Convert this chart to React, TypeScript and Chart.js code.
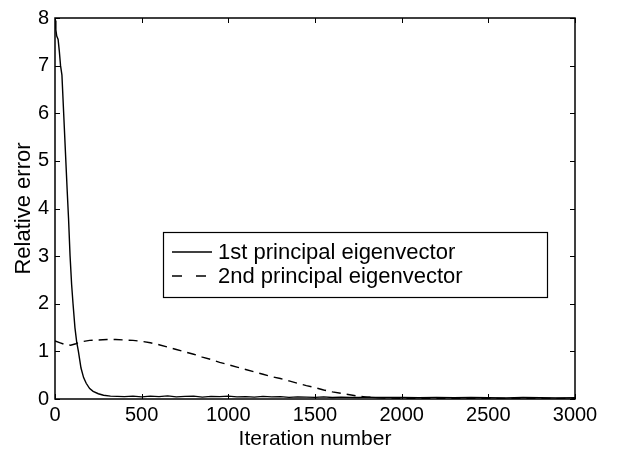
import React, { useEffect, useRef } from "react";
import { Chart, registerables } from "chart.js";

Chart.register(...registerables);

const iterFirst = [0, 5, 10, 18, 25, 32, 40, 50, 60, 70, 78, 87, 96, 104, 115, 125, 135, 150, 165, 180, 200, 220, 250, 280, 320, 360, 400, 450, 500, 550, 600, 650, 700, 750, 800, 850, 900, 950, 1000, 1050, 1100, 1150, 1200, 1250, 1300, 1350, 1400, 1450, 1500, 1550, 1600, 1650, 1700, 1750, 1800, 1850, 1900, 2000, 2100, 2200, 2300, 2400, 2500, 2600, 2700, 2800, 2900, 3000];
const errFirst = [7.95, 7.75, 7.62, 7.55, 7.3, 7.0, 6.8, 6.0, 5.2, 4.4, 3.8, 3.0, 2.4, 2.0, 1.5, 1.2, 1.0, 0.65, 0.45, 0.33, 0.22, 0.16, 0.11, 0.08, 0.06, 0.055, 0.05, 0.06, 0.045, 0.06, 0.05, 0.065, 0.045, 0.055, 0.06, 0.04, 0.055, 0.05, 0.06, 0.045, 0.05, 0.04, 0.055, 0.045, 0.05, 0.035, 0.045, 0.04, 0.035, 0.045, 0.03, 0.04, 0.035, 0.03, 0.04, 0.03, 0.035, 0.03, 0.025, 0.035, 0.025, 0.03, 0.025, 0.02, 0.03, 0.025, 0.02, 0.025];

const iterSecond = [0, 30, 60, 90, 120, 150, 200, 250, 300, 350, 400, 450, 500, 550, 600, 650, 700, 750, 800, 850, 900, 950, 1000, 1050, 1100, 1150, 1200, 1250, 1300, 1350, 1400, 1450, 1500, 1550, 1600, 1650, 1700, 1750, 1800, 1850, 1900, 2000, 2200, 2400, 2600, 2800, 3000];
const errSecond = [1.22, 1.18, 1.14, 1.13, 1.16, 1.2, 1.23, 1.24, 1.25, 1.25, 1.24, 1.23, 1.21, 1.18, 1.14, 1.09, 1.04, 0.99, 0.94, 0.88, 0.83, 0.77, 0.72, 0.67, 0.62, 0.57, 0.52, 0.47, 0.43, 0.38, 0.33, 0.28, 0.24, 0.19, 0.15, 0.12, 0.09, 0.06, 0.04, 0.03, 0.02, 0.015, 0.01, 0.01, 0.01, 0.01, 0.01];

const xTicks = [0, 500, 1000, 1500, 2000, 2500, 3000];
const yTicks = [0, 1, 2, 3, 4, 5, 6, 7, 8];
const seriesLabels = ["1st principal eigenvector", "2nd principal eigenvector"];
const xTitle = "Iteration number";
const yTitle = "Relative error";

const FONT = "'Liberation Sans', Arial, Helvetica, sans-serif";

const frameAndLegend = {
  id: "frameAndLegend",
  afterDraw(chart: any) {
    const { ctx, chartArea: ca, scales } = chart;
    const xs = scales.x;
    const ys = scales.y;
    ctx.save();
    ctx.strokeStyle = "#000";
    ctx.lineWidth = 1.5;
    ctx.setLineDash([]);
    ctx.strokeRect(ca.left, ca.top, ca.right - ca.left, ca.bottom - ca.top);
    const tl = 5;
    ctx.lineWidth = 1;
    ctx.beginPath();
    xTicks.forEach((v) => {
      const px = Math.round(xs.getPixelForValue(v)) + 0.5;
      ctx.moveTo(px, ca.bottom);
      ctx.lineTo(px, ca.bottom - tl);
      ctx.moveTo(px, ca.top);
      ctx.lineTo(px, ca.top + tl);
    });
    yTicks.forEach((v) => {
      const py = Math.round(ys.getPixelForValue(v)) + 0.5;
      ctx.moveTo(ca.left, py);
      ctx.lineTo(ca.left + tl, py);
      ctx.moveTo(ca.right, py);
      ctx.lineTo(ca.right - tl, py);
    });
    ctx.stroke();

    // legend
    const bx = ca.left + 108;
    const by = ca.top + 214;
    const bw = 384;
    const bh = 65;
    ctx.fillStyle = "#fff";
    ctx.fillRect(bx, by, bw, bh);
    ctx.lineWidth = 1.2;
    ctx.strokeRect(bx + 0.5, by + 0.5, bw, bh);
    ctx.font = `22px ${FONT}`;
    ctx.fillStyle = "#000";
    ctx.textBaseline = "middle";
    ctx.textAlign = "left";
    const rows = [by + 20, by + 44];
    rows.forEach((ry, i) => {
      ctx.beginPath();
      ctx.lineWidth = 1.3;
      ctx.setLineDash(i === 0 ? [] : [10, 14]);
      ctx.moveTo(bx + 9, ry);
      ctx.lineTo(bx + 49, ry);
      ctx.stroke();
      ctx.setLineDash([]);
      ctx.fillText(seriesLabels[i], bx + 55, ry + 1);
    });
    ctx.restore();
  },
};

export default function App() {
  const ref = useRef<HTMLCanvasElement | null>(null);
  useEffect(() => {
    if (!ref.current) return;
    const chart = new Chart(ref.current, {
      type: "line",
      data: {
        datasets: [
          {
            label: seriesLabels[0],
            data: iterFirst.map((x, i) => ({ x, y: errFirst[i] })),
            borderColor: "#000",
            borderWidth: 1.4,
            pointRadius: 0,
            tension: 0,
            fill: false,
          },
          {
            label: seriesLabels[1],
            data: iterSecond.map((x, i) => ({ x, y: errSecond[i] })),
            borderColor: "#000",
            borderWidth: 1.4,
            borderDash: [9, 6],
            pointRadius: 0,
            tension: 0,
            fill: false,
          },
        ],
      },
      options: {
        animation: false,
        responsive: false,
        layout: { padding: { top: 11, right: 43, left: 0, bottom: 0 } },
        plugins: {
          legend: { display: false },
          tooltip: { enabled: false },
        },
        scales: {
          x: {
            type: "linear",
            min: 0,
            max: 3000,
            afterFit: (s: any) => {
              s.height = 57;
            },
            afterBuildTicks: (s: any) => {
              s.ticks = xTicks.map((v) => ({ value: v }));
            },
            grid: { display: false, drawTicks: false },
            border: { display: false },
            ticks: {
              color: "#000",
              font: { size: 20, family: FONT },
              padding: 4,
              maxRotation: 0,
              autoSkip: false,
              callback: (v: any) => String(v),
            },
            title: {
              display: true,
              text: xTitle,
              color: "#000",
              font: { size: 21, family: FONT },
              padding: { top: 0, bottom: 4 },
            },
          },
          y: {
            type: "linear",
            min: 0,
            max: 8,
            afterFit: (s: any) => {
              s.width = 55;
            },
            afterBuildTicks: (s: any) => {
              s.ticks = yTicks.map((v) => ({ value: v }));
            },
            grid: { display: false, drawTicks: false },
            border: { display: false },
            ticks: {
              color: "#000",
              font: { size: 20, family: FONT },
              padding: 6,
              autoSkip: false,
              callback: (v: any) => String(v),
            },
            title: {
              display: true,
              text: yTitle,
              color: "#000",
              font: { size: 22, family: FONT },
              padding: { top: 11, bottom: 0 },
            },
          },
        },
      },
      plugins: [frameAndLegend],
    });
    return () => chart.destroy();
  }, []);
  return (
    <div style={{ position: "absolute", left: 0, top: 0, width: 618, height: 456, background: "#fff" }}>
      <canvas ref={ref} width={618} height={456} style={{ display: "block" }} />
    </div>
  );
}
